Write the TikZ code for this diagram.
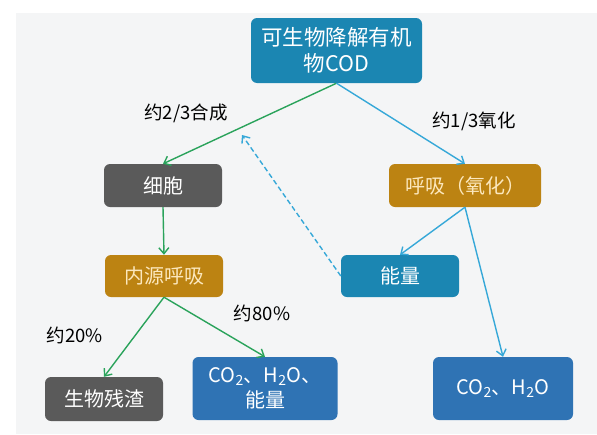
\documentclass[tikz,border=0pt]{standalone}
\usepackage{fontspec}
\setmainfont{Noto Sans CJK SC}
\usetikzlibrary{arrows.meta, positioning, calc}
\definecolor{codteal}{HTML}{1B86B2}
\definecolor{co2blue}{HTML}{2F73B4}
\definecolor{cellgray}{HTML}{5A5A5A}
\definecolor{respgold}{HTML}{BC8312}
\definecolor{goldtext}{HTML}{FCE8BE}
\definecolor{synthgreen}{HTML}{2AA35B}
\definecolor{oxcyan}{HTML}{36A8D8}
\definecolor{bggray}{HTML}{F4F5F6}

\tikzset{
  box/.style={rounded corners=6pt, text=white, align=center,
              font=\fontsize{20}{25}\selectfont, inner sep=0pt},
  labeltext/.style={font=\fontsize{18.5}{20}\selectfont, text=black},
  greenarrow/.style={draw=synthgreen, line width=1.4pt,
                     -{Straight Barb[length=6pt, width=10pt]}},
  cyanarrow/.style={draw=oxcyan, line width=1.4pt,
                    -{Straight Barb[length=6pt, width=10pt]}},
}

\begin{document}
\begin{tikzpicture}[x=1pt, y=-1pt]

    % Background
    \useasboundingbox (0,0) rectangle (597,434);
    \fill[bggray] (16,13) rectangle (597,434);

    % Source
    \node[box, fill=codteal, font=\fontsize{21.5}{26}\selectfont,
          minimum width=171pt, minimum height=65pt]
      (cod) at (336.5, 50.5) {可生物降解有机\\物COD};

    % Synthesis branch
    \node[box, fill=cellgray, minimum width=118pt, minimum height=43pt]
      (cell) at (163, 185.5) {细胞};
    \node[box, fill=respgold, text=goldtext, minimum width=118pt, minimum height=42pt]
      (endo) at (164, 276) {内源呼吸};
    \node[box, fill=cellgray, minimum width=118pt, minimum height=44pt]
      (residue) at (104, 399) {生物残渣};
    \node[box, fill=co2blue, minimum width=145pt, minimum height=63pt]
      (endoout) at (265, 388.5) {CO\textsubscript{2}、H\textsubscript{2}O、\\能量};

    % Oxidation branch
    \node[box, fill=respgold, text=goldtext, minimum width=152pt, minimum height=43pt]
      (resp) at (465, 185.5) {呼吸（氧化）};
    \node[box, fill=codteal, minimum width=118pt, minimum height=42pt]
      (energy) at (400, 276) {能量};
    \node[box, fill=co2blue, minimum width=140pt, minimum height=63pt]
      (respout) at (503, 388.5) {CO\textsubscript{2}、H\textsubscript{2}O};

    % Labels
    \node[labeltext] (lsynth) at (186, 113) {约2/3合成};
    \node[labeltext] (lox) at (474, 121) {约1/3氧化};
    \node[labeltext] (l20) at (75, 335) {约20\%};
    \node[labeltext] (l80) at (262, 313) {约80\%};

    % Connectors
    \draw[greenarrow] (cod.south) -- (cell.north);
    \draw[cyanarrow] (cod.south) -- (resp.north);
    \draw[greenarrow] (cell.south) -- (endo.north);
    \draw[greenarrow] (endo.south) -- (residue.north);
    \draw[greenarrow] (endo.south) -- (endoout.north);
    \draw[cyanarrow] (resp.south) -- (energy.north);
    \draw[cyanarrow] (resp.south) -- (respout.north);

    % Energy feeds synthesis
    \coordinate (feed) at (242, 135);
    \draw[cyanarrow, dash pattern=on 5pt off 3pt] (energy.west) -- (feed);

\end{tikzpicture}
\end{document}
